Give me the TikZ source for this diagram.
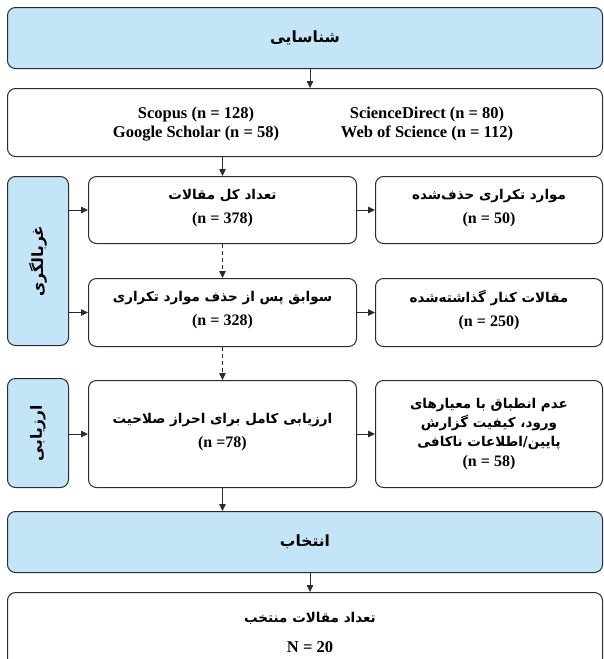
\documentclass[tikz,border=0pt]{standalone}
\usepackage{fontspec}
\setmainfont{Liberation Serif}
\newfontfamily\fa[Script=Arabic]{DejaVu Sans}
\TeXXeTstate=1
\usetikzlibrary{arrows.meta}
\definecolor{stageblue}{HTML}{C4E4F7}
\definecolor{edgecol}{HTML}{2B2B2B}
\newcommand{\fat}[1]{{\fa\bfseries\beginR #1\endR}}
\newcommand{\nnum}[1]{{\fontsize{16}{18}\selectfont\bfseries #1}}
\tikzset{
  box/.style={draw=edgecol, line width=1pt, rounded corners=8pt, fill=white, align=center, inner sep=0pt, anchor=north west},
  stagebox/.style={box, fill=stageblue},
  lat/.style={font=\fontsize{16.5}{19}\selectfont\bfseries},
  per/.style={font=\fontsize{15.5}{19}\selectfont},
  arr/.style={draw=edgecol, line width=0.8pt, -{Triangle[length=7pt,width=6.5pt]}},
  darr/.style={arr, dashed, dash pattern=on 4pt off 3pt},
  txt/.style={align=center, inner sep=0pt, font=\fontsize{13.5}{19}\selectfont}
}
\begin{document}
\begin{tikzpicture}[x=1pt,y=-1pt]
\useasboundingbox (0,0) rectangle (603,659);
\fill[white] (0,0) rectangle (603,659);
% stage boxes
\node[stagebox, minimum width=595pt, minimum height=61pt] (top) at (7,7) {};
\node[per] (toptxt) at (top.center) {\fat{شناسایی}};
\node[box, minimum width=595pt, minimum height=68pt] (src) at (7,88) {};
\node[txt, lat] (srcL) at (196,124) {Scopus (n = 128)\\Google Scholar (n = 58)};
\node[txt, lat] (srcR) at (427,124) {ScienceDirect (n = 80)\\Web of Science (n = 112)};
% screening
\node[stagebox, minimum width=61pt, minimum height=169pt] (side1) at (7,176) {};
\node[per, rotate=90] (side1txt) at (side1.center) {\fat{غربالگری}};
\node[box, minimum width=268pt, minimum height=67pt] (b1) at (88,176) {};
\node[txt] (b1txt) at ([yshift=2pt]b1.center) {\fat{تعداد کل مقالات}\\[5pt]\nnum{(n = 378)}};
\node[box, minimum width=227pt, minimum height=67pt] (r1) at (375,176) {};
\node[txt] (r1txt) at ([yshift=2pt]r1.center) {\fat{موارد تکراری حذف‌شده}\\[5pt]\nnum{(n = 50)}};
\node[box, minimum width=268pt, minimum height=68pt] (b2) at (88,278) {};
\node[txt] (b2txt) at ([yshift=2pt]b2.center) {\fat{سوابق پس از حذف موارد تکراری}\\[5pt]\nnum{(n = 328)}};
\node[box, minimum width=227pt, minimum height=68pt] (r2) at (375,278) {};
\node[txt] (r2txt) at ([yshift=2pt]r2.center) {\fat{مقالات کنار گذاشته‌شده}\\[5pt]\nnum{(n = 250)}};
% eligibility
\node[stagebox, minimum width=61pt, minimum height=109pt] (side2) at (7,378) {};
\node[per, rotate=90] (side2txt) at (side2.center) {\fat{ارزیابی}};
\node[box, minimum width=268pt, minimum height=107pt] (b3) at (88,380) {};
\node[txt] (b3txt) at ([yshift=2pt]b3.center) {\fat{ارزیابی کامل برای احراز صلاحیت}\\[5pt]\nnum{(n =78)}};
\node[box, minimum width=227pt, minimum height=107pt] (r3) at (375,380) {};
\node[txt] (r3txt) at (r3.center) {\fat{عدم انطباق با معیارهای}\\\fat{ورود، کیفیت گزارش}\\\fat{پایین/اطلاعات ناکافی}\\[1pt]\nnum{(n = 58)}};
% selection
\node[stagebox, minimum width=595pt, minimum height=61pt] (sel) at (7,511) {};
\node[per] (seltxt) at (sel.center) {\fat{انتخاب}};
\node[box, minimum width=595pt, minimum height=90pt] (fin) at (7,592) {};
\node[txt] (fintxt1) at (310,618) {\fat{تعداد مقالات منتخب}};
\node[lat] (fintxt2) at (310,647) {N = 20};
% connectors
\coordinate (cx) at (310,0);
\draw[arr] (top.south -| cx) -- (src.north -| cx);
\draw[arr] (src.south -| b1) -- (b1.north);
\draw[darr] (b1.south) -- (b2.north);
\draw[darr] (b2.south) -- (b3.north);
\draw[arr] (b3.south) -- (b3.south |- sel.north);
\draw[arr] (sel.south -| cx) -- (fin.north -| cx);
\draw[arr] (side1.east |- b1) -- (b1.west);
\draw[arr] (side1.east |- b2) -- (b2.west);
\draw[arr] (side2.east |- b3) -- (b3.west);
\draw[arr] (b1.east) -- (r1.west);
\draw[arr] (b2.east) -- (r2.west);
\draw[arr] (b3.east) -- (r3.west);
\end{tikzpicture}
\end{document}
